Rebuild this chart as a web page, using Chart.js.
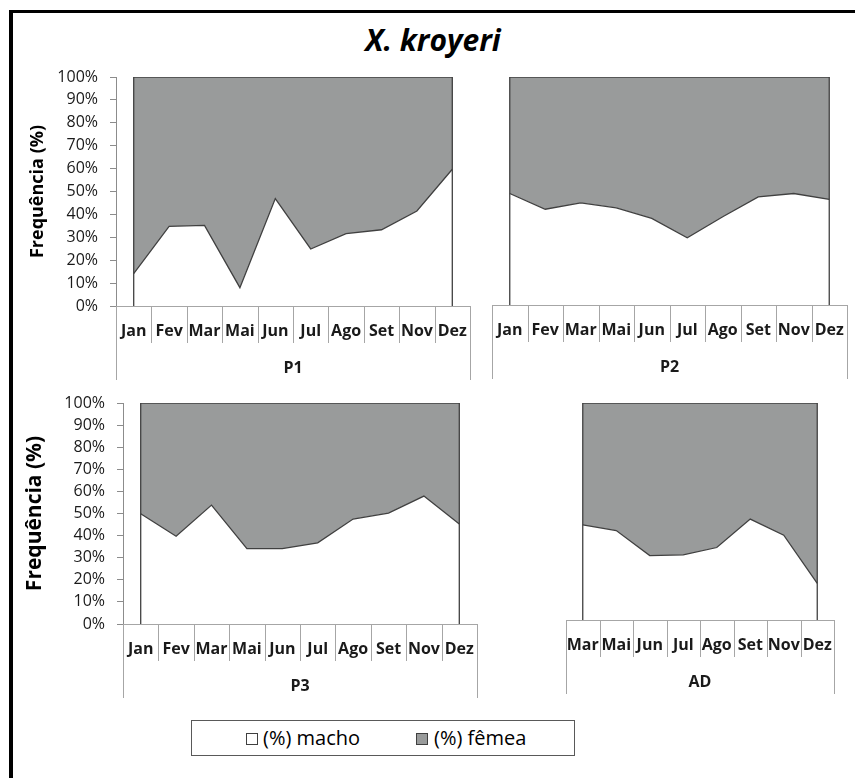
<!DOCTYPE html>
<html>
<head>
<meta charset="utf-8">
<script src="https://cdn.jsdelivr.net/npm/chart.js@4.4.1/dist/chart.umd.min.js"></script>
<style>
  body { margin: 0; background: #fff; }
  #page { position: relative; width: 855px; height: 778px; overflow: hidden; background: #fff; font-family: "Open Sans", sans-serif; }
  #frame { position: absolute; left: 9px; top: 10px; width: 900px; height: 820px; border-left: 4px solid #000; border-top: 3px solid #000; }
  #title { position: absolute; left: 0; top: 25px; width: 866px; text-align: center; font: italic bold 30px/30px "Open Sans", sans-serif; color: #000; }
  canvas { position: absolute; }
  #legend { position: absolute; left: 191px; top: 720px; width: 382px; height: 34px; border: 1px solid #595959; font-size: 20px; line-height: 34px; color: #000; }
  #legend .sw { position: absolute; top: 12px; width: 10px; height: 10px; border: 1px solid #404040; }
  #legend .tx { position: absolute; top: 0; }
</style>
</head>
<body>
<div id="page">
  <div id="frame"></div>
  <div id="title">X. kroyeri</div>
  <canvas id="cP1"></canvas>
  <canvas id="cP2"></canvas>
  <canvas id="cP3"></canvas>
  <canvas id="cAD"></canvas>
  <div id="legend">
    <span class="sw" style="left:54px;background:#fff"></span><span class="tx" style="left:71px">(%) macho</span>
    <span class="sw" style="left:224px;background:#999b9b"></span><span class="tx" style="left:242px">(%) fêmea</span>
  </div>
</div>
<script>
// months per panel
const meses = ['Jan', 'Fev', 'Mar', 'Mai', 'Jun', 'Jul', 'Ago', 'Set', 'Nov', 'Dez'];
const mesesAD = ['Mar', 'Mai', 'Jun', 'Jul', 'Ago', 'Set', 'Nov', 'Dez'];

// (%) macho / (%) fêmea
const machoP1 = [14.1, 34.8, 35.2, 8.0, 46.9, 24.9, 31.6, 33.3, 41.5, 59.7];
const femeaP1 = [85.9, 65.2, 64.8, 92.0, 53.1, 75.1, 68.4, 66.7, 58.5, 40.3];
const machoP2 = [48.9, 42.0, 44.8, 42.6, 38.0, 29.5, 38.7, 47.4, 48.9, 46.3];
const femeaP2 = [51.1, 58.0, 55.2, 57.4, 62.0, 70.5, 61.3, 52.6, 51.1, 53.7];
const machoP3 = [49.9, 39.7, 53.8, 34.1, 34.1, 36.7, 47.5, 50.2, 57.9, 45.2];
const femeaP3 = [50.1, 60.3, 46.2, 65.9, 65.9, 63.3, 52.5, 49.8, 42.1, 54.8];
const machoAD = [43.8, 41.2, 29.7, 30.0, 33.4, 46.5, 39.1, 16.9];
const femeaAD = [56.2, 58.8, 70.3, 70.0, 66.6, 53.5, 60.9, 83.1];

const serieNomes = ['(%) macho', '(%) fêmea'];
const yTitulo = 'Frequência (%)';

const FONT = '"Open Sans", sans-serif';
const LINE = '#404040';
const GRID = '#a6a6a6';
const AXIS_H = 80;

// separators and outer edges of the Excel-style two-level category axis
const boxLines = {
  id: 'boxLines',
  afterDraw(chart) {
    const x = chart.scales.x;
    const ctx = chart.ctx;
    const n = chart.data.labels.length;
    ctx.save();
    ctx.strokeStyle = GRID;
    ctx.lineWidth = 1;
    for (let i = 0; i <= n; i++) {
      const px = Math.round(x.getPixelForValue(i - 0.5)) + 0.5;
      const depth = (i === 0 || i === n) ? 74 : 37;
      ctx.beginPath();
      ctx.moveTo(px, x.top);
      ctx.lineTo(px, x.top + depth);
      ctx.stroke();
    }
    ctx.restore();
  }
};

// vertical edges of the area at first and last month
const areaSides = {
  id: 'areaSides',
  afterDatasetsDraw(chart) {
    const x = chart.scales.x, y = chart.scales.y;
    const n = chart.data.labels.length;
    const ctx = chart.ctx;
    ctx.save();
    ctx.strokeStyle = LINE;
    ctx.lineWidth = 1.3;
    [0, n - 1].forEach(i => {
      const px = x.getPixelForValue(i);
      ctx.beginPath();
      ctx.moveTo(px, y.getPixelForValue(0));
      ctx.lineTo(px, y.getPixelForValue(100));
      ctx.stroke();
    });
    ctx.restore();
  }
};

function drawPanel(id, labels, macho, femea, grupo, canvasBox, area, yAxis) {
  const el = document.getElementById(id);
  el.width = canvasBox.w;
  el.height = canvasBox.h;
  el.style.left = canvasBox.l + 'px';
  el.style.top = canvasBox.t + 'px';

  const yWidth = area.l - canvasBox.l;
  const padBottom = canvasBox.t + canvasBox.h - area.b - AXIS_H;

  new Chart(el, {
    type: 'line',
    data: {
      labels: labels,
      datasets: [
        { label: serieNomes[0], data: macho, fill: 'origin', backgroundColor: '#ffffff',
          borderColor: LINE, borderWidth: 1.3, pointRadius: 0, tension: 0 },
        { label: serieNomes[1], data: femea, fill: '-1', backgroundColor: '#999b9b',
          borderColor: LINE, borderWidth: 1.3, pointRadius: 0, tension: 0 }
      ]
    },
    options: {
      responsive: false,
      animation: false,
      devicePixelRatio: 1,
      layout: {
        padding: {
          left: yAxis ? 0 : yWidth,
          top: area.t - canvasBox.t,
          right: canvasBox.l + canvasBox.w - area.r,
          bottom: padBottom
        }
      },
      plugins: { legend: { display: false }, tooltip: { enabled: false } },
      scales: {
        x: {
          type: 'category',
          offset: true,
          grid: { display: false, drawTicks: false },
          border: { display: true, color: GRID, width: 1 },
          ticks: { color: '#1a1a1a', font: { family: FONT, size: 16, weight: 'bold' }, padding: 15.5, maxRotation: 0, autoSkip: false },
          title: { display: true, text: grupo, color: '#1a1a1a', font: { family: FONT, size: 16, weight: 'bold' }, padding: { top: 0, bottom: 8.4 } },
          afterFit(s) { s.height = AXIS_H; s.paddingLeft = 0; s.paddingRight = 0; }
        },
        y: {
          display: !!yAxis,
          stacked: true,
          min: 0,
          max: 100,
          ticks: { stepSize: 10, autoSkip: false, color: '#1a1a1a', font: { family: FONT, size: 16 }, padding: 12,
                   callback: v => v + '%' },
          grid: { drawOnChartArea: false, drawTicks: true, tickLength: 6, color: '#8c8c8c' },
          border: { display: true, color: '#8c8c8c', width: 1 },
          title: yAxis ? { display: true, text: yTitulo, color: '#000',
                           font: { family: FONT, size: yAxis.size, weight: 'bold' },
                           padding: { top: yAxis.cx - canvasBox.l - yAxis.size * 0.6, bottom: 0 } } : { display: false },
          afterFit(s) { s.width = yWidth; s.paddingTop = 0; s.paddingBottom = 0; }
        }
      }
    },
    plugins: [areaSides, boxLines]
  });
}

drawPanel('cP1', meses, machoP1, femeaP1, 'P1',
  { l: 0, t: 60, w: 480, h: 330 }, { l: 116, r: 470, t: 77, b: 306 }, { size: 18, cx: 38 });
drawPanel('cP2', meses, machoP2, femeaP2, 'P2',
  { l: 470, t: 60, w: 385, h: 330 }, { l: 481, r: 847, t: 77, b: 305 }, null);
drawPanel('cP3', meses, machoP3, femeaP3, 'P3',
  { l: 0, t: 388, w: 490, h: 320 }, { l: 123, r: 477, t: 403, b: 624 }, { size: 21, cx: 35 });
drawPanel('cAD', mesesAD, machoAD, femeaAD, 'AD',
  { l: 540, t: 388, w: 315, h: 320 }, { l: 553, r: 834, t: 403, b: 620 }, null);
</script>
</body>
</html>
